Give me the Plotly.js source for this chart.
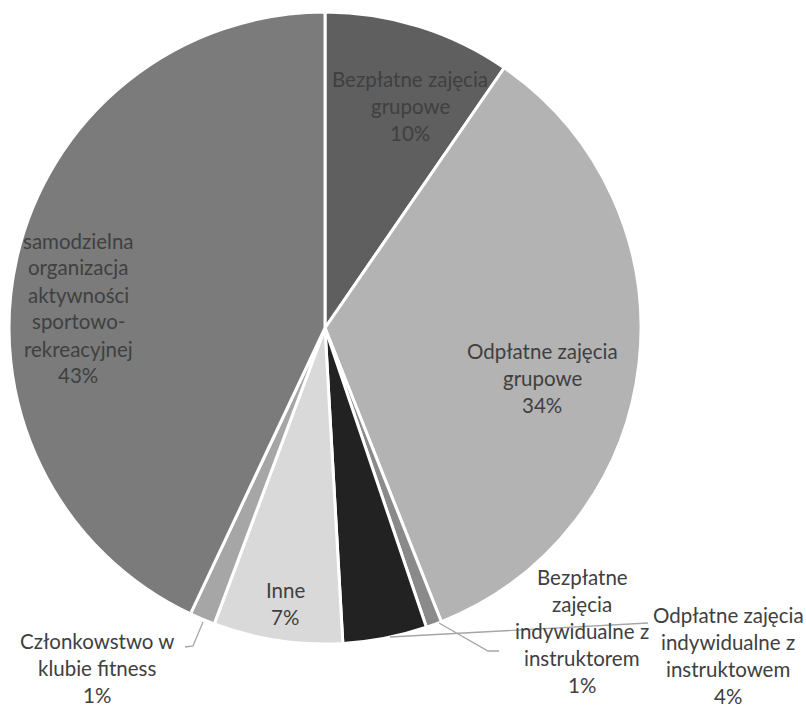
<!DOCTYPE html>
<html>
<head>
<meta charset="utf-8">
<script src="https://cdn.plot.ly/plotly-3.0.1.min.js"></script>
<style>html,body{margin:0;padding:0;background:#fff;}#chart{width:806px;height:708px;}</style>
</head>
<body>
<div id="chart"></div>
<script>
// Data
const labels = [
  "Bezpłatne zajęcia grupowe",
  "Odpłatne zajęcia grupowe",
  "Bezpłatne zajęcia indywidualne z instruktorem",
  "Odpłatne zajęcia indywidualne z instruktowem",
  "Inne",
  "Członkowstwo w klubie fitness",
  "samodzielna organizacja aktywności sportowo-rekreacyjnej"
];
const values = [9.6, 34.4, 0.8, 4.3, 6.6, 1.3, 43.0];
const percentLabels = ["10%", "34%", "1%", "4%", "7%", "1%", "43%"];
const labelLines = [
  ["Bezpłatne zajęcia", "grupowe"],
  ["Odpłatne zajęcia", "grupowe"],
  ["Bezpłatne", "zajęcia", "indywidualne z", "instruktorem"],
  ["Odpłatne zajęcia", "indywidualne z", "instruktowem"],
  ["Inne"],
  ["Członkowstwo w", "klubie fitness"],
  ["samodzielna", "organizacja", "aktywności", "sportowo-", "rekreacyjnej"]
];
const colors = ["#5f5f5f", "#b3b3b3", "#8a8a8a", "#222222", "#d9d9d9", "#a6a6a6", "#7b7b7b"];

// Layout helpers (pixel -> paper)
const W = 806, H = 708;
const px = x => x / W;
const py = y => 1 - y / H;

// label centres (pixels) and line spacing
const labelPos = [[410, 106], [542, 378], [582, 631], [728, 655], [285, 603], [97, 668], [78, 308]];
const lineH = 27;

const annotations = [];
labelLines.forEach((lines, i) => {
  const all = lines.concat([percentLabels[i]]);
  const n = all.length;
  all.forEach((t, k) => {
    const y = labelPos[i][1] + (k - (n - 1) / 2) * lineH;
    annotations.push({
      x: px(labelPos[i][0]), y: py(y), xref: 'paper', yref: 'paper',
      text: t, showarrow: false, xanchor: 'center', yanchor: 'middle',
      font: {family: 'Lato, "Open Sans", sans-serif', size: 20.5, color: '#404040'}
    });
  });
});

const leader = (pts) => ({
  type: 'path', xref: 'paper', yref: 'paper',
  path: pts.map((p, k) => (k ? 'L' : 'M') + px(p[0]) + ',' + py(p[1])).join(' '),
  line: {color: '#a6a6a6', width: 1.3}
});

const shapes = [
  leader([[203, 622], [193, 646], [185, 647]]),
  leader([[439, 623], [488, 651], [499, 651]]),
  leader([[390, 637], [648, 623]])
];

const trace = {
  type: 'pie',
  labels: labels,
  values: values,
  sort: false,
  direction: 'clockwise',
  rotation: 0,
  textinfo: 'none',
  hoverinfo: 'label+percent',
  marker: {colors: colors, line: {color: '#ffffff', width: 3}},
  domain: {x: [px(9), px(641)], y: [py(644), py(12)]},
  showlegend: false
};

Plotly.newPlot('chart', [trace], {
  width: W, height: H,
  margin: {l: 0, r: 0, t: 0, b: 0},
  paper_bgcolor: '#ffffff',
  showlegend: false,
  annotations: annotations,
  shapes: shapes
}, {displayModeBar: false});
</script>
</body>
</html>
